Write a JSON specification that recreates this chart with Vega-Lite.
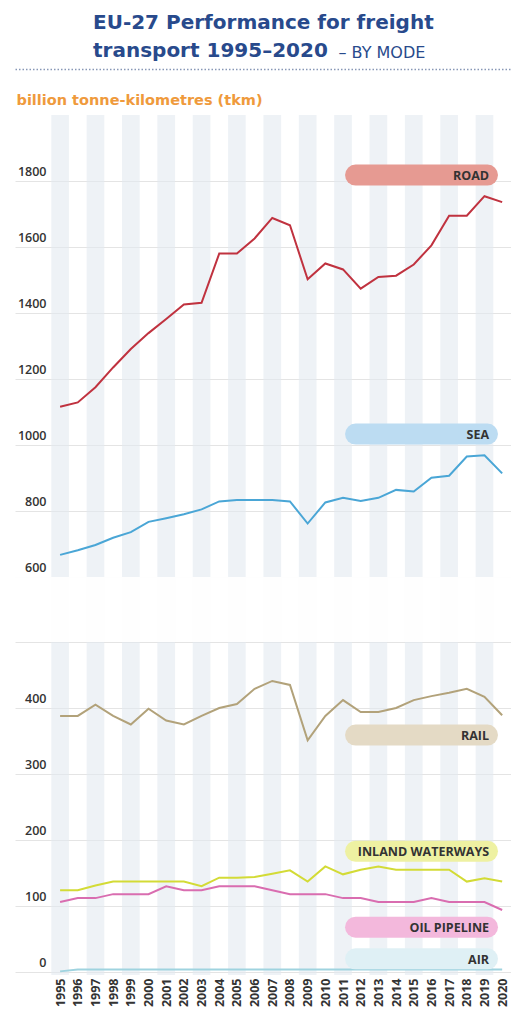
{
  "$schema": "https://vega.github.io/schema/vega-lite/v6.json",
  "width": 496,
  "height": 860,
  "autosize": {"type": "none"},
  "padding": {"left": 15, "top": 115, "right": 0, "bottom": 35},
  "background": "white",
  "config": {"view": {"stroke": null}, "font": "Open Sans"},
  "title": {
    "text": ["EU-27 Performance for freight", "transport 1995–2020"],
    "anchor": "start",
    "frame": "group",
    "dx": 78,
    "offset": -33,
    "baseline": "alphabetic",
    "font": "DejaVu Sans",
    "fontSize": 20,
    "fontWeight": "bold",
    "color": "#284a8c",
    "lineHeight": 28
  },
  "datasets": {
    "stripes": [
      {"year": 1995}, {"year": 1997}, {"year": 1999}, {"year": 2001}, {"year": 2003},
      {"year": 2005}, {"year": 2007}, {"year": 2009}, {"year": 2011}, {"year": 2013},
      {"year": 2015}, {"year": 2017}, {"year": 2019}
    ],
    "badges": [
      {"label": "ROAD", "labelY": 1818},
      {"label": "SEA", "labelY": 1033},
      {"label": "RAIL", "labelY": 359},
      {"label": "INLAND WATERWAYS", "labelY": 183},
      {"label": "OIL PIPELINE", "labelY": 68},
      {"label": "AIR", "labelY": 20}
    ],
    "freight": [
      {"year":1995,"mode":"Road","value":1116},{"year":1996,"mode":"Road","value":1129},{"year":1997,"mode":"Road","value":1175},{"year":1998,"mode":"Road","value":1235},{"year":1999,"mode":"Road","value":1291},{"year":2000,"mode":"Road","value":1339},{"year":2001,"mode":"Road","value":1382},{"year":2002,"mode":"Road","value":1426},{"year":2003,"mode":"Road","value":1431},{"year":2004,"mode":"Road","value":1580},{"year":2005,"mode":"Road","value":1580},{"year":2006,"mode":"Road","value":1626},{"year":2007,"mode":"Road","value":1688},{"year":2008,"mode":"Road","value":1666},{"year":2009,"mode":"Road","value":1502},{"year":2010,"mode":"Road","value":1550},{"year":2011,"mode":"Road","value":1532},{"year":2012,"mode":"Road","value":1474},{"year":2013,"mode":"Road","value":1509},{"year":2014,"mode":"Road","value":1513},{"year":2015,"mode":"Road","value":1547},{"year":2016,"mode":"Road","value":1605},{"year":2017,"mode":"Road","value":1695},{"year":2018,"mode":"Road","value":1695},{"year":2019,"mode":"Road","value":1754},{"year":2020,"mode":"Road","value":1736},
      {"year":1995,"mode":"Sea","value":667},{"year":1996,"mode":"Sea","value":681},{"year":1997,"mode":"Sea","value":697},{"year":1998,"mode":"Sea","value":719},{"year":1999,"mode":"Sea","value":736},{"year":2000,"mode":"Sea","value":767},{"year":2001,"mode":"Sea","value":778},{"year":2002,"mode":"Sea","value":790},{"year":2003,"mode":"Sea","value":805},{"year":2004,"mode":"Sea","value":829},{"year":2005,"mode":"Sea","value":833},{"year":2006,"mode":"Sea","value":833},{"year":2007,"mode":"Sea","value":833},{"year":2008,"mode":"Sea","value":829},{"year":2009,"mode":"Sea","value":762},{"year":2010,"mode":"Sea","value":826},{"year":2011,"mode":"Sea","value":840},{"year":2012,"mode":"Sea","value":830},{"year":2013,"mode":"Sea","value":840},{"year":2014,"mode":"Sea","value":864},{"year":2015,"mode":"Sea","value":859},{"year":2016,"mode":"Sea","value":901},{"year":2017,"mode":"Sea","value":907},{"year":2018,"mode":"Sea","value":965},{"year":2019,"mode":"Sea","value":969},{"year":2020,"mode":"Sea","value":914},
      {"year":1995,"mode":"Rail","value":388},{"year":1996,"mode":"Rail","value":388},{"year":1997,"mode":"Rail","value":405},{"year":1998,"mode":"Rail","value":388},{"year":1999,"mode":"Rail","value":375},{"year":2000,"mode":"Rail","value":399},{"year":2001,"mode":"Rail","value":381},{"year":2002,"mode":"Rail","value":375},{"year":2003,"mode":"Rail","value":388},{"year":2004,"mode":"Rail","value":400},{"year":2005,"mode":"Rail","value":406},{"year":2006,"mode":"Rail","value":429},{"year":2007,"mode":"Rail","value":441},{"year":2008,"mode":"Rail","value":435},{"year":2009,"mode":"Rail","value":351},{"year":2010,"mode":"Rail","value":388},{"year":2011,"mode":"Rail","value":412},{"year":2012,"mode":"Rail","value":394},{"year":2013,"mode":"Rail","value":394},{"year":2014,"mode":"Rail","value":400},{"year":2015,"mode":"Rail","value":412},{"year":2016,"mode":"Rail","value":418},{"year":2017,"mode":"Rail","value":423},{"year":2018,"mode":"Rail","value":429},{"year":2019,"mode":"Rail","value":417},{"year":2020,"mode":"Rail","value":389},
      {"year":1995,"mode":"Inland waterways","value":124},{"year":1996,"mode":"Inland waterways","value":124},{"year":1997,"mode":"Inland waterways","value":131},{"year":1998,"mode":"Inland waterways","value":137},{"year":1999,"mode":"Inland waterways","value":137},{"year":2000,"mode":"Inland waterways","value":137},{"year":2001,"mode":"Inland waterways","value":137},{"year":2002,"mode":"Inland waterways","value":137},{"year":2003,"mode":"Inland waterways","value":130},{"year":2004,"mode":"Inland waterways","value":143},{"year":2005,"mode":"Inland waterways","value":143},{"year":2006,"mode":"Inland waterways","value":144},{"year":2007,"mode":"Inland waterways","value":149},{"year":2008,"mode":"Inland waterways","value":154},{"year":2009,"mode":"Inland waterways","value":137},{"year":2010,"mode":"Inland waterways","value":160},{"year":2011,"mode":"Inland waterways","value":148},{"year":2012,"mode":"Inland waterways","value":155},{"year":2013,"mode":"Inland waterways","value":160},{"year":2014,"mode":"Inland waterways","value":155},{"year":2015,"mode":"Inland waterways","value":155},{"year":2016,"mode":"Inland waterways","value":155},{"year":2017,"mode":"Inland waterways","value":155},{"year":2018,"mode":"Inland waterways","value":137},{"year":2019,"mode":"Inland waterways","value":142},{"year":2020,"mode":"Inland waterways","value":137},
      {"year":1995,"mode":"Oil pipeline","value":106},{"year":1996,"mode":"Oil pipeline","value":112},{"year":1997,"mode":"Oil pipeline","value":112},{"year":1998,"mode":"Oil pipeline","value":118},{"year":1999,"mode":"Oil pipeline","value":118},{"year":2000,"mode":"Oil pipeline","value":118},{"year":2001,"mode":"Oil pipeline","value":130},{"year":2002,"mode":"Oil pipeline","value":124},{"year":2003,"mode":"Oil pipeline","value":124},{"year":2004,"mode":"Oil pipeline","value":130},{"year":2005,"mode":"Oil pipeline","value":130},{"year":2006,"mode":"Oil pipeline","value":130},{"year":2007,"mode":"Oil pipeline","value":124},{"year":2008,"mode":"Oil pipeline","value":118},{"year":2009,"mode":"Oil pipeline","value":118},{"year":2010,"mode":"Oil pipeline","value":118},{"year":2011,"mode":"Oil pipeline","value":112},{"year":2012,"mode":"Oil pipeline","value":112},{"year":2013,"mode":"Oil pipeline","value":106},{"year":2014,"mode":"Oil pipeline","value":106},{"year":2015,"mode":"Oil pipeline","value":106},{"year":2016,"mode":"Oil pipeline","value":112},{"year":2017,"mode":"Oil pipeline","value":106},{"year":2018,"mode":"Oil pipeline","value":106},{"year":2019,"mode":"Oil pipeline","value":106},{"year":2020,"mode":"Oil pipeline","value":94},
      {"year":1995,"mode":"Air","value":1},{"year":1996,"mode":"Air","value":4},{"year":1997,"mode":"Air","value":4},{"year":1998,"mode":"Air","value":4},{"year":1999,"mode":"Air","value":4},{"year":2000,"mode":"Air","value":4},{"year":2001,"mode":"Air","value":4},{"year":2002,"mode":"Air","value":4},{"year":2003,"mode":"Air","value":4},{"year":2004,"mode":"Air","value":4},{"year":2005,"mode":"Air","value":4},{"year":2006,"mode":"Air","value":4},{"year":2007,"mode":"Air","value":4},{"year":2008,"mode":"Air","value":4},{"year":2009,"mode":"Air","value":4},{"year":2010,"mode":"Air","value":4},{"year":2011,"mode":"Air","value":4},{"year":2012,"mode":"Air","value":4},{"year":2013,"mode":"Air","value":4},{"year":2014,"mode":"Air","value":4},{"year":2015,"mode":"Air","value":4},{"year":2016,"mode":"Air","value":4},{"year":2017,"mode":"Air","value":4},{"year":2018,"mode":"Air","value":4},{"year":2019,"mode":"Air","value":4},{"year":2020,"mode":"Air","value":4}
    ]
  },
  "layer": [
    {
      "data": {"name": "stripes"},
      "mark": {"type": "rect", "width": 17.68, "color": "#e3e9f0", "opacity": 0.6},
      "encoding": {
        "x": {
          "field": "year", "type": "quantitative",
          "scale": {"domain": [1992.45, 2020.5], "nice": false, "zero": false},
          "axis": {
            "orient": "bottom", "values": [1995,1996,1997,1998,1999,2000,2001,2002,2003,2004,2005,2006,2007,2008,2009,2010,2011,2012,2013,2014,2015,2016,2017,2018,2019,2020],
            "format": "d", "labelAngle": 270, "labelAlign": "right", "labelBaseline": "middle",
            "labelPadding": 3, "ticks": false, "tickSize": 0, "domain": false, "grid": false,
            "labelFont": "Open Sans", "labelFontSize": 12.5, "labelFontWeight": "bold", "labelColor": "#333333",
            "labelOverlap": false, "labelFlush": false, "title": null
          }
        }
      }
    },
    {
      "data": {"name": "stripes"},
      "mark": {"type": "rect", "color": "white", "opacity": 0.45},
      "encoding": {
        "y": {"datum": 500, "type": "quantitative", "title": "billion tonne-kilometres (tkm)"},
        "y2": {"datum": 600}
      }
    },
    {
      "data": {"name": "freight"},
      "mark": {"type": "line", "strokeWidth": 2},
      "encoding": {
        "x": {
          "field": "year", "type": "quantitative",
          "axis": {
            "orient": "top", "offset": 46, "labels": false, "ticks": false, "tickSize": 0, "grid": false,
            "domain": true, "domainDash": [1.5, 2], "domainColor": "#8797b6", "domainWidth": 1.5,
            "title": "– BY MODE", "titleX": 323, "titleY": -12, "titleAngle": 0, "titleAlign": "left",
            "titleBaseline": "alphabetic", "titleFont": "DejaVu Sans", "titleFontSize": 16,
            "titleFontWeight": "normal", "titleColor": "#284a8c"
          }
        },
        "y": {
          "field": "value", "type": "quantitative",
          "title": "billion tonne-kilometres (tkm)",
          "scale": {"domain": [-4.5, 500, 600, 2000], "range": [860, 527, 462, 0], "nice": false, "zero": false},
          "axis": {
            "values": [0, 100, 200, 300, 400, 500, 600, 800, 1000, 1200, 1400, 1600, 1800],
            "format": "d", "labelExpr": "datum.value == 500 ? '' : datum.label",
            "grid": true, "gridColor": "#e4e4e4", "gridWidth": 1, "domain": false, "ticks": false, "tickSize": 0,
            "labelPadding": -31, "labelAlign": "right", "labelBaseline": "alphabetic", "labelOffset": -6,
            "labelFont": "Open Sans", "labelFontSize": 12.5, "labelFontWeight": 600, "labelColor": "#333333",
            "labelOverlap": false,
            "titleAngle": 0, "titleX": 1, "titleY": -11, "titleAlign": "left", "titleBaseline": "alphabetic",
            "titleFont": "DejaVu Sans", "titleFontSize": 14.5, "titleFontWeight": "bold", "titleColor": "#ef9a3c"
          }
        },
        "stroke": {
          "field": "mode", "type": "nominal", "legend": null,
          "scale": {
            "domain": ["Road", "Sea", "Rail", "Inland waterways", "Oil pipeline", "Air"],
            "range": ["#c0323f", "#4aa6d6", "#b2a27a", "#d3db36", "#d96db0", "#9fd3df"]
          }
        }
      }
    },
    {
      "data": {"name": "badges"},
      "mark": {"type": "rule", "strokeWidth": 21, "strokeCap": "round"},
      "encoding": {
        "x": {"datum": 2011.71, "type": "quantitative", "axis": null},
        "x2": {"datum": 2019.17},
        "y": {"field": "labelY", "type": "quantitative", "title": "billion tonne-kilometres (tkm)"},
        "color": {
          "field": "label", "type": "nominal", "legend": null,
          "scale": {
            "domain": ["ROAD", "SEA", "RAIL", "INLAND WATERWAYS", "OIL PIPELINE", "AIR"],
            "range": ["#e69a92", "#bcdcf2", "#e4dac5", "#eef1a2", "#f3b8dc", "#dff0f5"]
          }
        }
      }
    },
    {
      "data": {"name": "badges"},
      "mark": {"type": "text", "align": "right", "baseline": "middle", "font": "Open Sans", "fontSize": 12.5, "fontWeight": "bold", "color": "#333333", "dy": 1},
      "encoding": {
        "x": {"datum": 2019.26, "type": "quantitative", "axis": null},
        "y": {"field": "labelY", "type": "quantitative", "title": "billion tonne-kilometres (tkm)"},
        "text": {"field": "label"}
      }
    }
  ],
  "resolve": {"axis": {"x": "independent"}}
}
